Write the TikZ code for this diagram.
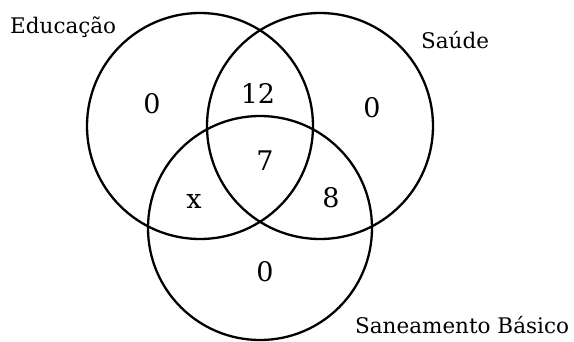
\documentclass[tikz,border=0pt]{standalone}
\usepackage{fontspec}
\setmainfont{DejaVu Serif}
\begin{document}
\begin{tikzpicture}[x=1pt,y=-1pt,
  setring/.style={draw=black,line width=2.3pt},
  setlabel/.style={anchor=base west,inner sep=0pt,font=\fontsize{21.5}{26}\selectfont},
  count/.style={anchor=center,inner sep=0pt,font=\fontsize{27}{32}\selectfont}]
\useasboundingbox (0,0) rectangle (574,341);
\draw[setring] (200,126) circle[radius=113];
\draw[setring] (320,126) circle[radius=113];
\draw[setring] (260,228) circle[radius=112];
\node[setlabel] (edu) at (10,33) {Educação};
\node[setlabel] (sau) at (421,48) {Saúde};
\node[setlabel] (san) at (355,333) {Saneamento Básico};
\node[count] (a) at (152,104) {0};
\node[count] (b) at (258,93) {12};
\node[count] (c) at (372,108) {0};
\node[count] (d) at (265,161) {7};
\node[count] (e) at (194,201) {x};
\node[count] (f) at (331,198) {8};
\node[count] (g) at (265,272) {0};
\end{tikzpicture}
\end{document}
